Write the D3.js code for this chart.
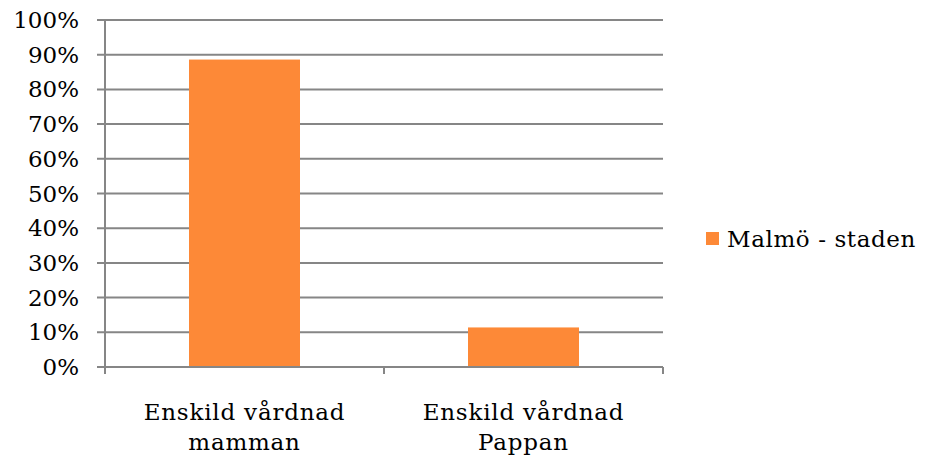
<!DOCTYPE html>
<html>
<head>
<meta charset="utf-8">
<script src="https://cdn.jsdelivr.net/npm/d3@7"></script>
<style>
  body { margin: 0; background: #fff; }
  text { font-family: "DejaVu Serif", "Liberation Serif", serif; fill: #000; }
</style>
</head>
<body>
<svg id="chart" width="926" height="458"></svg>
<script>
// data
var categories = [["Enskild vårdnad", "mamman"], ["Enskild vårdnad", "Pappan"]];
var seriesName = "Malmö - staden";
var values = [0.886, 0.114];
var yTicks = [0, 0.1, 0.2, 0.3, 0.4, 0.5, 0.6, 0.7, 0.8, 0.9, 1.0];

var svg = d3.select("#chart");
var plotLeft = 105, plotRight = 663, plotTop = 20, plotBottom = 367;
var gridColor = "#868686";
var barColor = "#FD8937";
var fontSize = 23;

var y = d3.scaleLinear().domain([0, 1]).range([plotBottom, plotTop]);
var x = d3.scaleBand().domain(d3.range(categories.length)).range([plotLeft, plotRight]);

// gridlines + y ticks
svg.append("g").selectAll("line")
    .data(yTicks)
    .enter().append("line")
    .attr("x1", plotLeft - 8)
    .attr("x2", plotRight)
    .attr("y1", function (d) { return y(d); })
    .attr("y2", function (d) { return y(d); })
    .attr("stroke", gridColor)
    .attr("stroke-width", 2);

svg.append("g").selectAll("text")
    .data(yTicks)
    .enter().append("text")
    .attr("x", 79)
    .attr("y", function (d) { return y(d); })
    .attr("dy", "0.35em")
    .attr("text-anchor", "end")
    .attr("font-size", fontSize)
    .text(function (d) { return Math.round(d * 100) + "%"; });

// bars
var bw = 111;
svg.append("g").selectAll("rect")
    .data(values)
    .enter().append("rect")
    .attr("x", function (d, i) { return x(i) + x.bandwidth() / 2 - bw / 2; })
    .attr("width", bw)
    .attr("y", function (d) { return y(d); })
    .attr("height", function (d) { return plotBottom - y(d); })
    .attr("fill", barColor);

// axes lines
svg.append("line")
    .attr("x1", plotLeft).attr("x2", plotLeft)
    .attr("y1", plotTop).attr("y2", plotBottom + 7)
    .attr("stroke", gridColor).attr("stroke-width", 2);
svg.append("line")
    .attr("x1", plotLeft).attr("x2", plotRight)
    .attr("y1", plotBottom).attr("y2", plotBottom)
    .attr("stroke", gridColor).attr("stroke-width", 2);

var xTicks = d3.range(categories.length + 1).map(function (i) {
    return i < categories.length ? x(i) : plotRight;
});
svg.append("g").selectAll("line")
    .data(xTicks)
    .enter().append("line")
    .attr("x1", function (d) { return d; })
    .attr("x2", function (d) { return d; })
    .attr("y1", plotBottom)
    .attr("y2", plotBottom + 7)
    .attr("stroke", gridColor)
    .attr("stroke-width", 2);

// category labels
var cat = svg.append("g").selectAll("text")
    .data(categories)
    .enter().append("text")
    .attr("text-anchor", "middle")
    .attr("font-size", fontSize)
    .attr("letter-spacing", 0.8)
    .attr("transform", function (d, i) { return "translate(" + (x(i) + x.bandwidth() / 2) + ",0)"; });
cat.each(function (d) {
    var t = d3.select(this);
    d.forEach(function (line, k) {
        t.append("tspan").attr("x", 0).attr("y", 420 + k * 30).text(line);
    });
});

// legend
svg.append("rect")
    .attr("x", 706).attr("y", 232)
    .attr("width", 13).attr("height", 13)
    .attr("fill", barColor);
svg.append("text")
    .attr("x", 727).attr("y", 239)
    .attr("dy", "0.35em")
    .attr("font-size", fontSize)
    .attr("letter-spacing", 0.6)
    .text(seriesName);
</script>
</body>
</html>
